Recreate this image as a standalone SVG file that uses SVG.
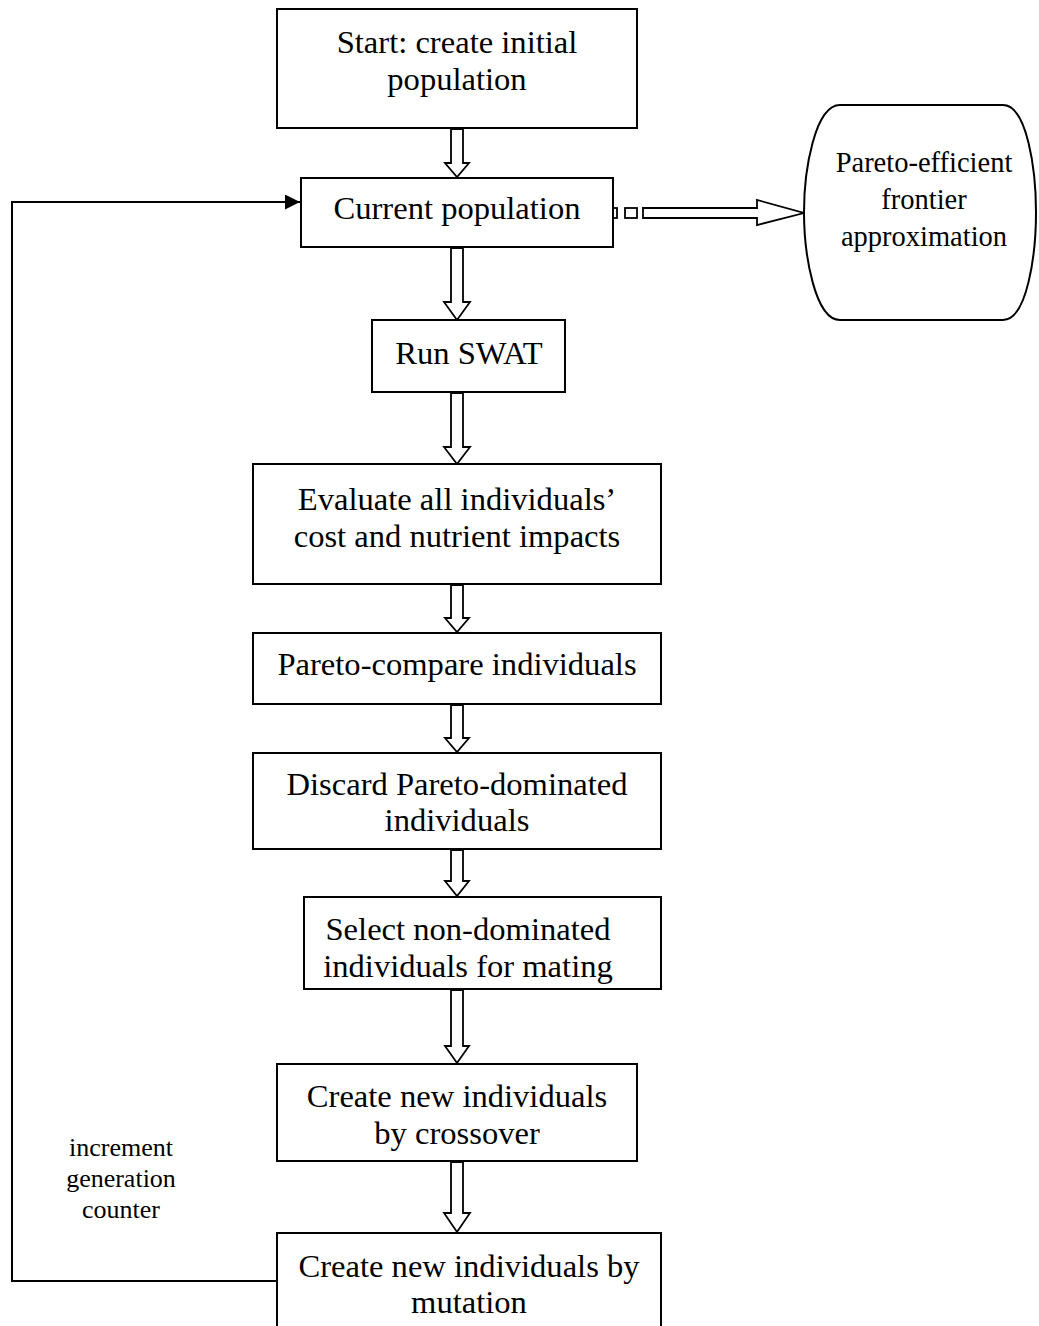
<svg xmlns="http://www.w3.org/2000/svg" width="1039" height="1326" viewBox="0 0 1039 1326">
<style>
.box{fill:#fff;stroke:#000;stroke-width:2}
.t{font-family:"Liberation Serif","Times New Roman",serif;font-size:32.6px;fill:#000;text-anchor:middle}
.ts{font-family:"Liberation Serif","Times New Roman",serif;font-size:28.5px;fill:#000;text-anchor:middle}
.tl{font-family:"Liberation Serif","Times New Roman",serif;font-size:26px;fill:#000;text-anchor:middle}
.ha{fill:#fff;stroke:#000;stroke-width:1.8;stroke-linejoin:miter}
.ln{fill:none;stroke:#000;stroke-width:2}
</style>
<defs>
<marker id="tri" markerWidth="16" markerHeight="16" refX="15" refY="7.5" orient="auto" markerUnits="userSpaceOnUse">
<path d="M0,0 L15,7.5 L0,15 Z" fill="#000"/>
</marker>
</defs>
<rect width="1039" height="1326" fill="#fff"/>
<g id="connectors">
<path class="ha" d="M451,129 V163 H445 L457,177 L469,163 H463 V129 Z"/>
<path class="ha" d="M451,248 V302 H444 L457,320 L470,302 H463 V248 Z"/>
<path class="ha" d="M451,393 V447 H444 L457,464 L470,447 H463 V393 Z"/>
<path class="ha" d="M451,585 V618 H445 L457,632 L469,618 H463 V585 Z"/>
<path class="ha" d="M451,705 V738 H445 L457,752 L469,738 H463 V705 Z"/>
<path class="ha" d="M451,850 V881 H445 L457,896 L469,881 H463 V850 Z"/>
<path class="ha" d="M451,990 V1046 H445 L457,1063 L469,1046 H463 V990 Z"/>
<path class="ha" d="M451,1162 V1213 H444 L457,1232 L470,1213 H463 V1162 Z"/>
<rect class="ha" x="612" y="208" width="5" height="10"/>
<rect class="ha" x="625" y="208" width="12" height="10"/>
<path class="ha" d="M643,208 H757 V200 L804,213 L757,225 V218 H643 Z"/>
<path class="ln" d="M277,1281 H12 V202 H300" marker-end="url(#tri)"/>
</g>
<g id="n-start"><rect class="box" x="277" y="9" width="360" height="119"/>
<text class="t" x="457" y="53">Start: create initial</text>
<text class="t" x="457" y="90">population</text></g>
<g id="n-current"><rect class="box" x="301" y="178" width="312" height="69"/>
<text class="t" x="457" y="219">Current population</text></g>
<g id="n-frontier"><path class="box" d="M840,105 H1003 C1027,105 1036,170 1036,212 C1036,255 1027,320 1003,320 H840 C815,320 804,255 804,212 C804,170 815,105 840,105 Z"/>
<text class="ts" x="924" y="172">Pareto-efficient</text>
<text class="ts" x="924" y="209">frontier</text>
<text class="ts" x="924" y="246">approximation</text></g>
<g id="n-swat"><rect class="box" x="372" y="320" width="193" height="72"/>
<text class="t" x="469" y="364">Run SWAT</text></g>
<g id="n-evaluate"><rect class="box" x="253" y="464" width="408" height="120"/>
<text class="t" x="457" y="510">Evaluate all individuals’</text>
<text class="t" x="457" y="547">cost and nutrient impacts</text></g>
<g id="n-compare"><rect class="box" x="253" y="633" width="408" height="71"/>
<text class="t" x="457" y="675">Pareto-compare individuals</text></g>
<g id="n-discard"><rect class="box" x="253" y="753" width="408" height="96"/>
<text class="t" x="457" y="795">Discard Pareto-dominated</text>
<text class="t" x="457" y="831">individuals</text></g>
<g id="n-select"><rect class="box" x="304" y="897" width="357" height="92"/>
<text class="t" x="468" y="940">Select non-dominated</text>
<text class="t" x="468" y="977">individuals for mating</text></g>
<g id="n-crossover"><rect class="box" x="277" y="1064" width="360" height="97"/>
<text class="t" x="457" y="1107">Create new individuals</text>
<text class="t" x="457" y="1144">by crossover</text></g>
<g id="n-mutation"><rect class="box" x="277" y="1233" width="384" height="100"/>
<text class="t" x="469" y="1277">Create new individuals by</text>
<text class="t" x="469" y="1313">mutation</text></g>
<g id="label-increment">
<text class="tl" x="121" y="1156">increment</text>
<text class="tl" x="121" y="1187">generation</text>
<text class="tl" x="121" y="1218">counter</text></g>
</svg>
